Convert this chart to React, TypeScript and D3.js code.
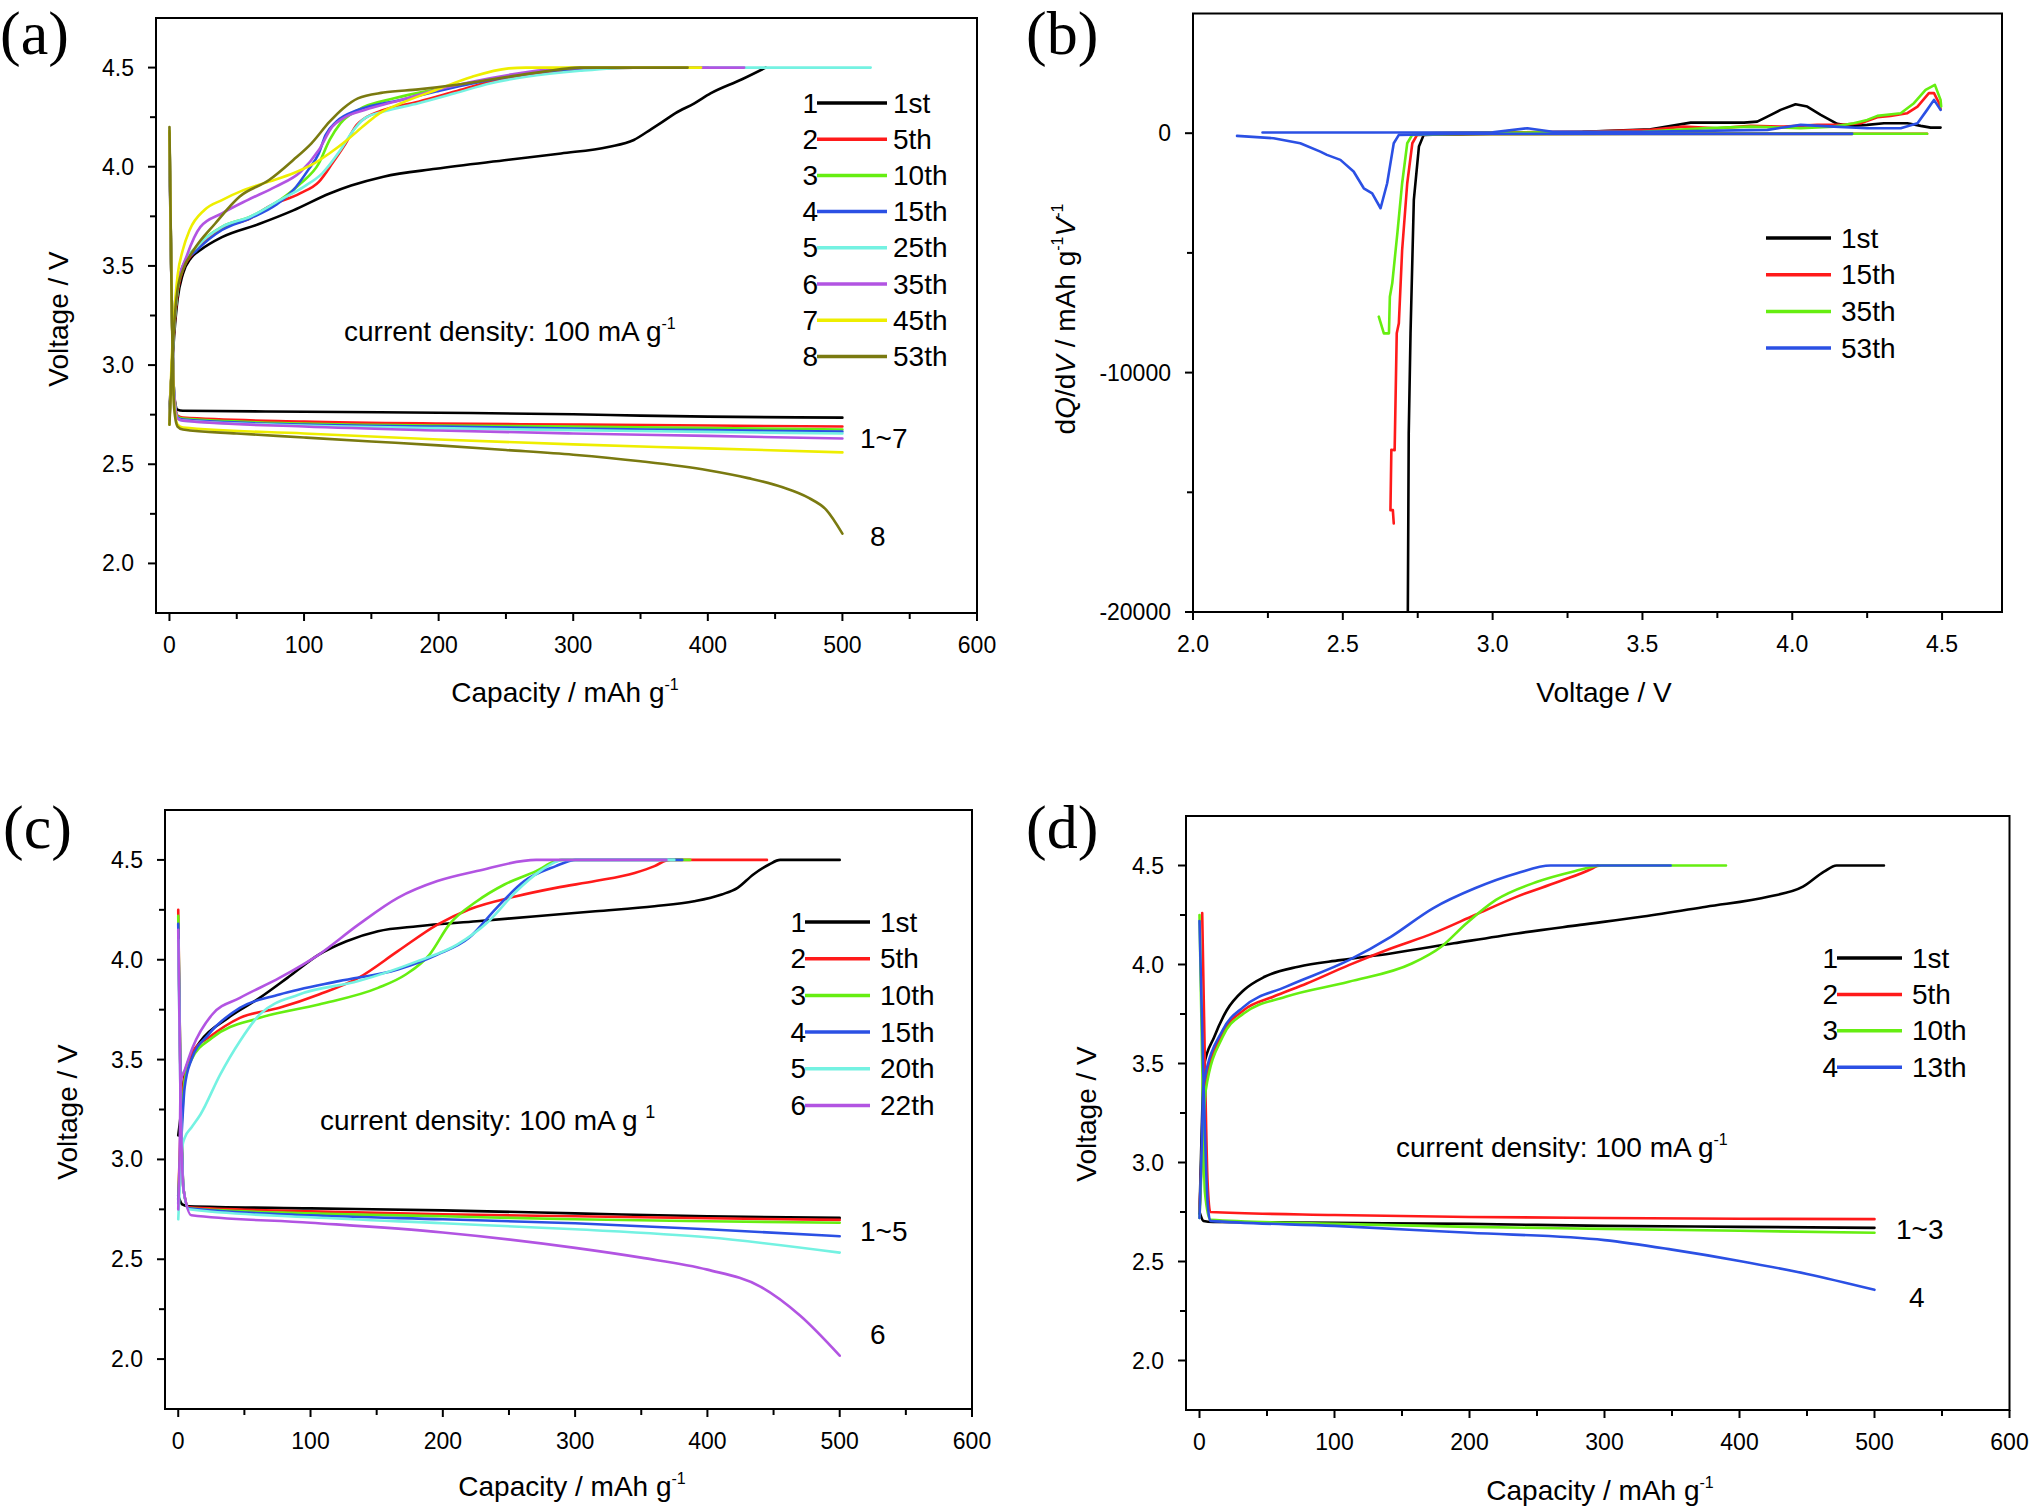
import React from 'react';
import * as d3 from 'd3';

// ---------- data ----------
// panel (a): capacity (mAh/g) vs voltage (V)
const a1stCharge = [[0,2.78],[1.5,2.95],[3.5,3.15],[6,3.33],[10,3.46],[16,3.54],[23,3.58],[39,3.645],[66,3.71],[92,3.78],[119,3.865],[135,3.905],[159,3.95],[198,3.99],[252,4.035],[291,4.067],[326,4.1],[345,4.135],[358,4.19],[366,4.225],[376,4.27],[390,4.32],[402,4.37],[425,4.44],[443,4.5]];
const a1stDischarge = [[0,4.08],[1.5,3.4],[3.5,2.85],[6,2.775],[10,2.77],[100,2.765],[200,2.76],[300,2.752],[350,2.745],[400,2.74],[500,2.735]];
const a5thCharge = [[0,2.74],[1.5,2.95],[3.5,3.18],[6,3.36],[10,3.48],[20,3.58],[39,3.69],[60,3.74],[74,3.8],[97,3.866],[111,3.924],[121,4.017],[131,4.118],[139,4.21],[145,4.244],[159,4.286],[185,4.328],[212,4.379],[238,4.429],[265,4.463],[305,4.491],[345,4.5],[380,4.5]];
const a5thDischarge = [[0,4.15],[1.5,3.4],[3.5,2.85],[6,2.745],[10,2.735],[100,2.715],[200,2.705],[300,2.7],[400,2.695],[500,2.69]];
const a10thCharge = [[0,2.74],[1.5,2.95],[3.5,3.2],[6,3.38],[10,3.5],[20.5,3.6],[39,3.697],[60,3.748],[82,3.832],[97.5,3.916],[111,4.017],[119,4.135],[127,4.219],[140,4.286],[167,4.345],[198,4.39],[225,4.425],[252,4.458],[278,4.483],[305,4.5],[390,4.5]];
const a10thDischarge = [[0,4.16],[1.5,3.4],[3.5,2.85],[6,2.74],[10,2.73],[100,2.705],[200,2.695],[300,2.69],[400,2.683],[500,2.675]];
const a15thCharge = [[0,2.73],[1.5,2.95],[3.5,3.2],[6,3.38],[10,3.5],[20.5,3.58],[39,3.681],[60,3.74],[79,3.807],[92,3.882],[103,3.983],[111,4.068],[116,4.16],[124,4.227],[140,4.286],[172,4.337],[198,4.379],[225,4.42],[252,4.454],[278,4.48],[331,4.5],[400,4.5]];
const a15thDischarge = [[0,4.16],[1.5,3.4],[3.5,2.85],[6,2.735],[10,2.725],[100,2.7],[200,2.69],[300,2.68],[400,2.672],[500,2.665]];
const a25thCharge = [[0,2.73],[1.5,2.95],[3.5,3.2],[6,3.38],[10,3.5],[20.5,3.597],[39,3.697],[60,3.748],[82,3.832],[100,3.9],[113.5,3.967],[127,4.084],[135,4.168],[145,4.244],[159,4.278],[185,4.32],[212,4.37],[238,4.42],[265,4.454],[305,4.484],[345,4.5],[521,4.5]];
const a25thDischarge = [[0,4.17],[1.5,3.4],[3.5,2.85],[6,2.73],[10,2.72],[100,2.695],[200,2.682],[300,2.672],[400,2.663],[500,2.655]];
const a35thCharge = [[0,2.72],[1.5,2.97],[3.5,3.22],[6,3.4],[12.6,3.546],[23,3.697],[39,3.765],[58,3.832],[79,3.9],[97.5,3.975],[111,4.084],[121,4.202],[129,4.244],[145,4.286],[172,4.337],[198,4.387],[225,4.429],[252,4.463],[278,4.488],[318,4.5],[427,4.5]];
const a35thDischarge = [[0,4.17],[1.5,3.4],[3.5,2.85],[6,2.73],[10,2.72],[100,2.69],[200,2.67],[300,2.655],[400,2.643],[500,2.63]];
const a45thCharge = [[0,2.7],[1.5,3.0],[3.5,3.25],[6,3.45],[9.9,3.58],[15,3.681],[26,3.782],[39,3.832],[55,3.882],[74,3.925],[92,3.967],[105.5,4.009],[119,4.068],[132,4.135],[145,4.21],[156,4.269],[172,4.32],[198,4.387],[225,4.454],[252,4.496],[265,4.5],[395,4.5]];
const a45thDischarge = [[0,4.18],[1.5,3.4],[3.5,2.8],[6,2.7],[10,2.685],[100,2.655],[200,2.625],[300,2.6],[400,2.58],[500,2.56]];
const a53thCharge = [[0,2.7],[1.5,2.95],[3.5,3.2],[6,3.38],[10,3.48],[18,3.58],[34,3.714],[52,3.849],[74,3.933],[92,4.034],[105.5,4.118],[119,4.227],[129,4.294],[140,4.345],[159,4.374],[185,4.39],[212,4.412],[252,4.454],[278,4.48],[305,4.5],[385,4.5]];
const a53thDischarge = [[0,4.2],[1.5,3.4],[3.5,2.78],[6,2.69],[10,2.675],[50,2.655],[100,2.635],[150,2.615],[200,2.595],[250,2.572],[300,2.548],[350,2.515],[400,2.47],[430,2.43],[455,2.385],[475,2.33],[488,2.27],[500,2.15]];

// panel (b): voltage (V) vs dQ/dV
const b1stCharge = [[2.78,0],[3.0,20],[3.3,60],[3.527,167],[3.661,443],[3.839,443],[3.883,485],[3.917,694],[3.961,974],[4.011,1212],[4.05,1112],[4.095,765],[4.15,390],[4.194,305],[4.25,347],[4.306,418],[4.384,418],[4.429,305],[4.462,234],[4.495,234]];
const b1stDischarge = [[4.2,-30],[3.5,-30],[3.0,-30],[2.8,-60],[2.77,-70],[2.754,-560],[2.737,-2790],[2.726,-8360],[2.72,-12540],[2.717,-20000],[2.7165,-21000]];
const b15thCharge = [[2.75,0],[3.0,20],[3.3,60],[3.527,138],[3.638,276],[3.75,209],[3.861,305],[3.972,276],[4.083,347],[4.161,347],[4.228,418],[4.284,669],[4.328,725],[4.384,836],[4.418,1112],[4.456,1672],[4.473,1672],[4.49,1254],[4.495,1003]];
const b15thDischarge = [[4.45,-20],[3.5,-20],[2.9,-30],[2.748,-70],[2.732,-420],[2.715,-2090],[2.698,-4880],[2.687,-7940],[2.68,-8360],[2.673,-13240],[2.662,-13220],[2.659,-15745],[2.667,-15745],[2.67,-16300]];
const b35thCharge = [[2.75,0],[3.0,20],[3.5,60],[3.7,200],[3.861,276],[4.028,209],[4.139,276],[4.205,418],[4.25,556],[4.284,725],[4.362,836],[4.406,1254],[4.445,1810],[4.476,2019],[4.495,1392],[4.497,1114]];
const b35thDischarge = [[4.45,-20],[3.5,-20],[2.9,-30],[2.7315,-70],[2.715,-420],[2.698,-2090],[2.682,-4180],[2.665,-6270],[2.657,-6830],[2.654,-8360],[2.637,-8360],[2.62,-7665]];
const b53thCharge = [[2.232,30],[2.6,30],[3.0,40],[3.116,209],[3.2,60],[3.5,60],[3.917,139],[4.028,347],[4.139,276],[4.25,209],[4.362,209],[4.418,418],[4.45,974],[4.473,1392],[4.495,974]];
const b53thDischarge = [[4.2,-20],[3.5,-20],[2.9,-20],[2.687,-70],[2.67,-420],[2.648,-2090],[2.626,-3135],[2.598,-2510],[2.57,-2300],[2.536,-1600],[2.492,-1115],[2.447,-905],[2.425,-770],[2.358,-420],[2.269,-210],[2.147,-113]];

// panel (c)
const c1stCharge = [[0,3.12],[1.5,3.2],[3,3.3],[4.8,3.425],[10,3.52],[16.8,3.592],[37.7,3.709],[61.6,3.809],[82.5,3.909],[106.3,4.026],[127.2,4.093],[151,4.143],[181,4.168],[225.7,4.193],[270.5,4.218],[315.3,4.243],[360,4.268],[390,4.293],[410.8,4.327],[422.8,4.36],[434.7,4.427],[446.6,4.477],[455,4.5],[500,4.5]];
const c1stDischarge = [[0,2.82],[3,2.775],[8,2.765],[100,2.755],[200,2.745],[300,2.73],[400,2.715],[500,2.707]];
const c5thCharge = [[0,2.8],[1.5,3.1],[3,3.3],[6,3.45],[12,3.55],[22.8,3.609],[46.6,3.709],[76.5,3.759],[106.3,3.826],[136.2,3.909],[166,4.043],[195.9,4.176],[219.8,4.252],[255.6,4.318],[285.4,4.36],[315.3,4.394],[345,4.435],[360,4.469],[369,4.497],[372,4.5],[445,4.5]];
const c5thDischarge = [[0,4.25],[1.5,3.5],[4,2.85],[8,2.76],[100,2.74],[200,2.725],[300,2.715],[400,2.705],[500,2.697]];
const c10thCharge = [[0,2.8],[1.5,3.05],[3,3.22],[4.8,3.392],[10,3.5],[25.7,3.609],[61.6,3.709],[106.3,3.776],[151,3.859],[172,3.926],[190,4.026],[204.8,4.176],[225.7,4.293],[246.6,4.377],[270.5,4.444],[285.4,4.494],[290,4.5],[387,4.5]];
const c10thDischarge = [[0,4.22],[1.5,3.5],[4,2.85],[8,2.755],[100,2.73],[200,2.715],[300,2.7],[400,2.69],[500,2.683]];
const c15thCharge = [[0,2.78],[1.5,3.0],[3,3.18],[4.8,3.358],[10,3.5],[22.8,3.625],[46.6,3.759],[76.5,3.826],[121.3,3.893],[166,3.951],[195.9,4.026],[219.8,4.11],[240.7,4.26],[261.6,4.394],[285.4,4.469],[297.4,4.497],[300,4.5],[381,4.5]];
const c15thDischarge = [[0,4.18],[1.5,3.5],[4,2.85],[8,2.755],[100,2.72],[200,2.7],[300,2.68],[400,2.65],[500,2.615]];
const c20thCharge = [[0,2.7],[1.5,2.9],[3,3.06],[4.8,3.107],[10,3.16],[16.8,3.225],[31.7,3.425],[46.6,3.592],[61.6,3.726],[91.4,3.826],[136.2,3.893],[181,3.993],[210.8,4.076],[234.7,4.193],[255.6,4.343],[273.5,4.444],[285.4,4.49],[290,4.5],[375,4.5]];
const c20thDischarge = [[0,4.1],[1.5,3.4],[4,2.85],[8,2.75],[100,2.71],[200,2.68],[300,2.65],[400,2.61],[500,2.533]];
const c22thCharge = [[0,2.75],[1,3.0],[1.9,3.392],[5,3.45],[10.8,3.559],[25.7,3.726],[46.6,3.809],[76.5,3.909],[106.3,4.026],[136.2,4.176],[166,4.31],[195.9,4.394],[225.7,4.444],[270.5,4.5],[369,4.5]];
const c22thDischarge = [[0,4.15],[1.5,3.4],[4,2.85],[10,2.72],[100,2.683],[200,2.634],[300,2.557],[350,2.508],[400,2.448],[440,2.363],[470,2.218],[500,2.017]];

// panel (d)
const d1stCharge = [[0,2.74],[1,3.0],[2,3.25],[3.1,3.483],[10.9,3.634],[20.2,3.769],[32.7,3.87],[48.2,3.938],[73.2,3.989],[104.3,4.022],[141.7,4.056],[188.4,4.107],[235.2,4.157],[281.9,4.2],[328.6,4.242],[375.3,4.292],[422,4.343],[447,4.393],[462.6,4.469],[471.9,4.5],[507,4.5]];
const d1stDischarge = [[0,2.75],[3,2.705],[10,2.7],[100,2.695],[200,2.69],[300,2.68],[400,2.675],[500,2.67]];
const d5thCharge = [[0,2.75],[2,3.1],[4.6,3.398],[17.1,3.651],[32.7,3.769],[54.5,3.837],[79.4,3.904],[110.6,3.997],[141.7,4.081],[172.9,4.157],[204,4.25],[235.2,4.343],[266.3,4.419],[291.2,4.486],[295,4.5]];
const d5thDischarge = [[2,4.26],[4,3.5],[6,2.9],[8,2.75],[100,2.735],[200,2.725],[300,2.72],[400,2.716],[500,2.714]];
const d10thCharge = [[0,2.72],[2,3.05],[4.6,3.364],[17.1,3.634],[32.7,3.752],[63.8,3.837],[110.6,3.913],[157.3,4.005],[179.1,4.09],[197.8,4.208],[219.6,4.326],[250.7,4.419],[281.9,4.478],[294.4,4.498],[298,4.5],[390,4.5]];
const d10thDischarge = [[0,4.25],[2,3.5],[4,2.85],[8,2.71],[100,2.69],[200,2.675],[300,2.665],[400,2.655],[500,2.645]];
const d13thCharge = [[0,2.72],[1.5,3.05],[3.1,3.398],[17.1,3.668],[32.7,3.786],[63.8,3.887],[110.6,4.022],[141.7,4.14],[172.9,4.284],[204,4.385],[235.2,4.461],[260.1,4.5],[349,4.5]];
const d13thDischarge = [[0,4.22],[3,3.4],[6,2.8],[8,2.705],[100,2.68],[200,2.645],[300,2.608],[350,2.56],[400,2.503],[450,2.437],[500,2.357]];

const aCycles = ['1st', '5th', '10th', '15th', '25th', '35th', '45th', '53th'];
const bCycles = ['1st', '15th', '35th', '53th'];
const cCycles = ['1st', '5th', '10th', '15th', '20th', '22th'];
const dCycles = ['1st', '5th', '10th', '13th'];

const capTicks = [0, 100, 200, 300, 400, 500, 600];
const capMinor = [50, 150, 250, 350, 450, 550];
const voltTicks = [2.0, 2.5, 3.0, 3.5, 4.0, 4.5];
const voltMinor = [2.25, 2.75, 3.25, 3.75, 4.25];
const bVoltMinor = [2.25, 2.75, 3.25, 3.75, 4.25];
const dqdvTicks = [0, -10000, -20000];
const dqdvMinor = [-5000, -15000];

// ---------- styles ----------
const BLACK = '#000000';
const RED = '#ff1a1a';
const GREEN = '#66ee11';
const BLUE = '#2b50e4';
const CYAN = '#74f2e2';
const PURPLE = '#b254e2';
const YELLOW = '#eeee00';
const OLIVE = '#7a7a10';

const SANS = '"Liberation Sans", Arial, Helvetica, sans-serif';
const SERIF = '"Liberation Serif", "Times New Roman", serif';

const sup = (t, size = 16) => [
  <tspan key="s" dy={-12} fontSize={size}>{t}</tspan>,
];

function Panel({ id, rect, xDomain, yDomain, xMajor, xMinor, yMajor, yMinor, xFmt, yFmt,
  series, curve, label, labelPos, xTitle, xTitlePos, yTitle, yTitlePos, legend, notes }) {
  const x = d3.scaleLinear().domain(xDomain).range([rect.left, rect.right]);
  const y = d3.scaleLinear().domain(yDomain).range([rect.bottom, rect.top]);
  const line = d3.line().x(d => x(d[0])).y(d => y(d[1])).curve(curve);

  return (
    <g fontFamily={SANS}>
      <defs>
        <clipPath id={`clip-${id}`}>
          <rect x={rect.left} y={rect.top} width={rect.right - rect.left} height={rect.bottom - rect.top} />
        </clipPath>
      </defs>

      {/* curves */}
      <g clipPath={`url(#clip-${id})`} fill="none" strokeLinejoin="round" strokeLinecap="round">
        {series.map((s, i) => (
          <path key={i} d={line(s.data)} stroke={s.color} strokeWidth={s.width || 2.6} />
        ))}
      </g>

      {/* frame */}
      <rect x={rect.left} y={rect.top} width={rect.right - rect.left} height={rect.bottom - rect.top}
        fill="none" stroke="#000" strokeWidth={2} />

      {/* x ticks */}
      {xMajor.map(v => (
        <g key={`xm${v}`}>
          <line x1={x(v)} x2={x(v)} y1={rect.bottom} y2={rect.bottom + 8} stroke="#000" strokeWidth={2} />
          <text x={x(v)} y={rect.bottom + 40} textAnchor="middle" fontSize={23}>{xFmt(v)}</text>
        </g>
      ))}
      {xMinor.map(v => (
        <line key={`xn${v}`} x1={x(v)} x2={x(v)} y1={rect.bottom} y2={rect.bottom + 6} stroke="#000" strokeWidth={2} />
      ))}

      {/* y ticks */}
      {yMajor.map(v => (
        <g key={`ym${v}`}>
          <line x1={rect.left - 8} x2={rect.left} y1={y(v)} y2={y(v)} stroke="#000" strokeWidth={2} />
          <text x={rect.left - 22} y={y(v) + 8} textAnchor="end" fontSize={23}>{yFmt(v)}</text>
        </g>
      ))}
      {yMinor.map(v => (
        <line key={`yn${v}`} x1={rect.left - 6} x2={rect.left} y1={y(v)} y2={y(v)} stroke="#000" strokeWidth={2} />
      ))}

      {/* titles */}
      <text x={xTitlePos[0]} y={xTitlePos[1]} textAnchor="middle" fontSize={28}>{xTitle}</text>
      <text transform={`translate(${yTitlePos[0]},${yTitlePos[1]}) rotate(-90)`} textAnchor="middle" fontSize={28}>{yTitle}</text>

      {/* panel label */}
      <text x={labelPos[0]} y={labelPos[1]} fontFamily={SERIF} fontSize={62}>{label}</text>

      {/* legend */}
      {legend.names.map((n, i) => {
        const cy = legend.y0 + i * legend.dy;
        return (
          <g key={n}>
            {legend.numbered && (
              <text x={legend.x1 + 1} y={cy + 9.5} textAnchor="end" fontSize={28}>{i + 1}</text>
            )}
            <line x1={legend.x1} x2={legend.x2} y1={cy} y2={cy} stroke={series[i * legend.step].color} strokeWidth={3.5} />
            <text x={legend.tx} y={cy + 9.5} fontSize={28}>{n}</text>
          </g>
        );
      })}

      {/* annotations */}
      {notes.map((n, i) => (
        <text key={i} x={n.x} y={n.y} fontSize={28}>{n.content}</text>
      ))}
    </g>
  );
}

const capFmt = v => String(v);
const voltFmt = v => v.toFixed(1);
const capTitle = <>Capacity / mAh g{sup('-1')}</>;
const voltTitle = 'Voltage / V';
const density = <>current density: 100 mA g{sup('-1')}</>;

const pair = (colors, ...pairs) => pairs.flatMap((p, i) => [
  { data: p[0], color: colors[i] },
  { data: p[1], color: colors[i] },
]);

export default function App() {
  const curve = d3.curveMonotoneX;

  const aSeries = pair([BLACK, RED, GREEN, BLUE, CYAN, PURPLE, YELLOW, OLIVE],
    [a1stCharge, a1stDischarge], [a5thCharge, a5thDischarge], [a10thCharge, a10thDischarge],
    [a15thCharge, a15thDischarge], [a25thCharge, a25thDischarge], [a35thCharge, a35thDischarge],
    [a45thCharge, a45thDischarge], [a53thCharge, a53thDischarge]);
  const bSeries = pair([BLACK, RED, GREEN, BLUE],
    [b1stCharge, b1stDischarge], [b15thCharge, b15thDischarge],
    [b35thCharge, b35thDischarge], [b53thCharge, b53thDischarge]);
  const cSeries = pair([BLACK, RED, GREEN, BLUE, CYAN, PURPLE],
    [c1stCharge, c1stDischarge], [c5thCharge, c5thDischarge], [c10thCharge, c10thDischarge],
    [c15thCharge, c15thDischarge], [c20thCharge, c20thDischarge], [c22thCharge, c22thDischarge]);
  const dSeries = pair([BLACK, RED, GREEN, BLUE],
    [d1stCharge, d1stDischarge], [d5thCharge, d5thDischarge],
    [d10thCharge, d10thDischarge], [d13thCharge, d13thDischarge]);

  const dqdvTitle = (
    <>
      d<tspan fontStyle="italic">Q</tspan>/d<tspan fontStyle="italic">V</tspan>{' / mAh g'}
      <tspan dy={-12} fontSize={16}>-1</tspan>
      <tspan dy={12} fontStyle="italic">V</tspan>
      <tspan dy={-12} fontSize={16}>-1</tspan>
    </>
  );

  return (
    <svg width={2032} height={1507} style={{ position: 'absolute', left: 0, top: 0, background: '#fff' }}>
      <rect width={2032} height={1507} fill="#fff" />

      <Panel id="a" rect={{ left: 156, right: 977, top: 18, bottom: 613 }}
        xDomain={[-10, 600]} yDomain={[1.75, 4.75]}
        xMajor={capTicks} xMinor={capMinor} yMajor={voltTicks} yMinor={voltMinor}
        xFmt={capFmt} yFmt={voltFmt} series={aSeries} curve={curve}
        label="(a)" labelPos={[0, 54]}
        xTitle={capTitle} xTitlePos={[565, 702]} yTitle={voltTitle} yTitlePos={[68, 319]}
        legend={{ names: aCycles, numbered: true, x1: 817, x2: 887, tx: 893, y0: 103, dy: 36.2, step: 2 }}
        notes={[
          { x: 344, y: 341, content: density },
          { x: 860, y: 448, content: '1~7' },
          { x: 870, y: 546, content: '8' },
        ]} />

      <Panel id="b" rect={{ left: 1193, right: 2002, top: 13.5, bottom: 612 }}
        xDomain={[2.0, 4.7]} yDomain={[-20000, 5000]}
        xMajor={voltTicks} xMinor={bVoltMinor} yMajor={dqdvTicks} yMinor={dqdvMinor}
        xFmt={voltFmt} yFmt={v => String(v)} series={bSeries} curve={d3.curveLinear}
        label="(b)" labelPos={[1026, 54]}
        xTitle={voltTitle} xTitlePos={[1604, 702]} yTitle={dqdvTitle} yTitlePos={[1075, 319]}
        legend={{ names: bCycles, numbered: false, x1: 1766, x2: 1831, tx: 1841, y0: 238, dy: 36.7, step: 2 }}
        notes={[]} />

      <Panel id="c" rect={{ left: 165, right: 972, top: 810, bottom: 1409 }}
        xDomain={[-10, 600]} yDomain={[1.75, 4.75]}
        xMajor={capTicks} xMinor={capMinor} yMajor={voltTicks} yMinor={voltMinor}
        xFmt={capFmt} yFmt={voltFmt} series={cSeries} curve={curve}
        label="(c)" labelPos={[3, 848]}
        xTitle={capTitle} xTitlePos={[572, 1496]} yTitle={voltTitle} yTitlePos={[77, 1112]}
        legend={{ names: cCycles, numbered: true, x1: 805, x2: 870, tx: 880, y0: 922, dy: 36.7, step: 2 }}
        notes={[
          { x: 320, y: 1130, content: <>current density: 100 mA g {sup('1', 18)}</> },
          { x: 860, y: 1241, content: '1~5' },
          { x: 870, y: 1344, content: '6' },
        ]} />

      <Panel id="d" rect={{ left: 1186, right: 2009.5, top: 816, bottom: 1410 }}
        xDomain={[-10, 600]} yDomain={[1.75, 4.75]}
        xMajor={capTicks} xMinor={capMinor} yMajor={voltTicks} yMinor={voltMinor}
        xFmt={capFmt} yFmt={voltFmt} series={dSeries} curve={curve}
        label="(d)" labelPos={[1026, 848]}
        xTitle={capTitle} xTitlePos={[1600, 1500]} yTitle={voltTitle} yTitlePos={[1096, 1114]}
        legend={{ names: dCycles, numbered: true, x1: 1837, x2: 1902, tx: 1912, y0: 958, dy: 36.4, step: 2 }}
        notes={[
          { x: 1396, y: 1157, content: density },
          { x: 1896, y: 1239, content: '1~3' },
          { x: 1909, y: 1307, content: '4' },
        ]} />
    </svg>
  );
}
